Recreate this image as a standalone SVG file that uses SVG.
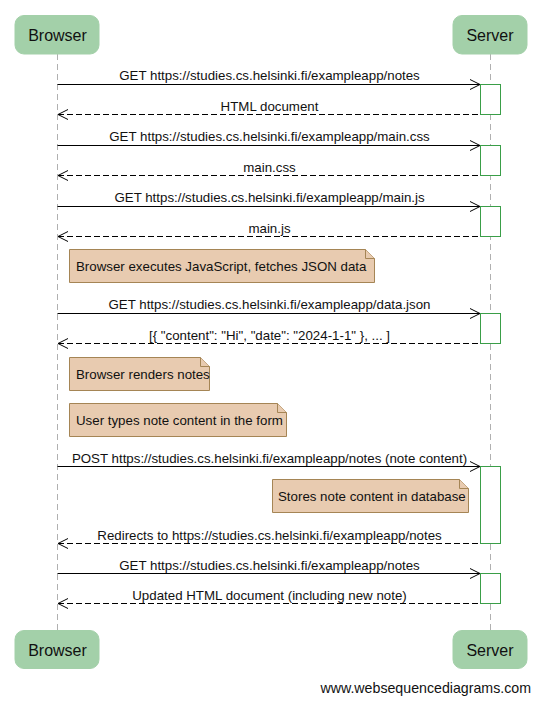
<svg xmlns="http://www.w3.org/2000/svg" width="541" height="703" viewBox="0 0 541 703">
<defs>
<style>
.actor{fill:#a3d0a9;stroke:#a3d0a9;stroke-width:1}
.atext{font-family:"Liberation Sans",Arial,sans-serif;font-size:16px;fill:#111;text-anchor:middle}
.life{stroke:#b0b0b0;stroke-width:1;stroke-dasharray:6,4;fill:none}
.act{fill:#fff;stroke:#3a9e48;stroke-width:1}
.msg{stroke:#000;stroke-width:1;fill:none}
.ret{stroke:#000;stroke-width:1;fill:none;stroke-dasharray:6,3}
.head{stroke:#000;stroke-width:1;fill:none}
.mtext{font-family:"Liberation Sans",Arial,sans-serif;font-size:13.3px;fill:#111;text-anchor:middle}
.note{fill:#e8cbb0;stroke:#a58555;stroke-width:1}
.ntext{font-family:"Liberation Sans",Arial,sans-serif;font-size:13.3px;fill:#111}
.foot{font-family:"Liberation Sans",Arial,sans-serif;font-size:14.2px;fill:#111;text-anchor:end}
</style>
</defs>
<rect width="541" height="703" fill="#fff"/>
<g id="lifelines">
<line class="life" x1="57.5" y1="54" x2="57.5" y2="630"/>
<line class="life" x1="490.5" y1="54" x2="490.5" y2="630"/>
</g>
<g id="browser-top"><rect class="actor" x="15" y="15.5" width="84" height="38.5" rx="9"/><text class="atext" x="57.5" y="41">Browser</text></g>
<g id="server-top"><rect class="actor" x="453" y="15.5" width="74" height="38.5" rx="9"/><text class="atext" x="490" y="41">Server</text></g>
<g id="browser-bottom"><rect class="actor" x="15" y="630.5" width="84" height="38" rx="9"/><text class="atext" x="57.5" y="656">Browser</text></g>
<g id="server-bottom"><rect class="actor" x="453" y="630.5" width="74" height="38" rx="9"/><text class="atext" x="490" y="656">Server</text></g>
<g id="activations">
<rect class="act" x="480.5" y="84.5" width="20" height="30"/>
<rect class="act" x="480.5" y="145.5" width="20" height="30"/>
<rect class="act" x="480.5" y="206.5" width="20" height="30"/>
<rect class="act" x="480.5" y="313.5" width="20" height="30"/>
<rect class="act" x="480.5" y="466.5" width="20" height="77"/>
<rect class="act" x="480.5" y="573.5" width="20" height="30"/>
</g>
<g id="connectors">
<line class="msg" x1="57.5" y1="84.5" x2="480" y2="84.5"/><polyline class="head" points="470,79.5 480,84.5 470,89.5"/>
<text class="mtext" x="269.5" y="80">GET https://studies.cs.helsinki.fi/exampleapp/notes</text>
<line class="ret" x1="58" y1="114.5" x2="480" y2="114.5"/><polyline class="head" points="68,109.5 58,114.5 68,119.5"/>
<text class="mtext" x="269.5" y="111">HTML document</text>

<line class="msg" x1="57.5" y1="145.5" x2="480" y2="145.5"/><polyline class="head" points="470,140.5 480,145.5 470,150.5"/>
<text class="mtext" x="269.5" y="141">GET https://studies.cs.helsinki.fi/exampleapp/main.css</text>
<line class="ret" x1="58" y1="175.5" x2="480" y2="175.5"/><polyline class="head" points="68,170.5 58,175.5 68,180.5"/>
<text class="mtext" x="269.5" y="172">main.css</text>

<line class="msg" x1="57.5" y1="206.5" x2="480" y2="206.5"/><polyline class="head" points="470,201.5 480,206.5 470,211.5"/>
<text class="mtext" x="269.5" y="202">GET https://studies.cs.helsinki.fi/exampleapp/main.js</text>
<line class="ret" x1="58" y1="236.5" x2="480" y2="236.5"/><polyline class="head" points="68,231.5 58,236.5 68,241.5"/>
<text class="mtext" x="269.5" y="233">main.js</text>

<line class="msg" x1="57.5" y1="313.5" x2="480" y2="313.5"/><polyline class="head" points="470,308.5 480,313.5 470,318.5"/>
<text class="mtext" x="269.5" y="309">GET https://studies.cs.helsinki.fi/exampleapp/data.json</text>
<line class="ret" x1="58" y1="343.5" x2="480" y2="343.5"/><polyline class="head" points="68,338.5 58,343.5 68,348.5"/>
<text class="mtext" x="269.5" y="340">[{ "content": "Hi", "date": "2024-1-1" }, ... ]</text>

<line class="msg" x1="57.5" y1="466.5" x2="480" y2="466.5"/><polyline class="head" points="470,461.5 480,466.5 470,471.5"/>
<text class="mtext" x="269.5" y="463">POST https://studies.cs.helsinki.fi/exampleapp/notes (note content)</text>
<line class="ret" x1="58" y1="543.5" x2="480" y2="543.5"/><polyline class="head" points="68,538.5 58,543.5 68,548.5"/>
<text class="mtext" x="269.5" y="540">Redirects to https://studies.cs.helsinki.fi/exampleapp/notes</text>

<line class="msg" x1="57.5" y1="573.5" x2="480" y2="573.5"/><polyline class="head" points="470,568.5 480,573.5 470,578.5"/>
<text class="mtext" x="269.5" y="570">GET https://studies.cs.helsinki.fi/exampleapp/notes</text>
<line class="ret" x1="58" y1="603.5" x2="480" y2="603.5"/><polyline class="head" points="68,598.5 58,603.5 68,608.5"/>
<text class="mtext" x="269.5" y="600">Updated HTML document (including new note)</text>
</g>
<g id="note1"><path class="note" d="M69.5,249.5 H365.5 L374.5,258.5 V282.5 H69.5 Z"/><path class="note" d="M365.5,249.5 V258.5 H374.5" fill="none"/><text class="ntext" x="76" y="271">Browser executes JavaScript, fetches JSON data</text></g>
<g id="note2"><path class="note" d="M69.5,357.5 H200.5 L209.5,366.5 V390.5 H69.5 Z"/><path class="note" d="M200.5,357.5 V366.5 H209.5" fill="none"/><text class="ntext" x="76" y="379">Browser renders notes</text></g>
<g id="note3"><path class="note" d="M69.5,403.5 H277.5 L286.5,412.5 V436.5 H69.5 Z"/><path class="note" d="M277.5,403.5 V412.5 H286.5" fill="none"/><text class="ntext" x="76" y="425">User types note content in the form</text></g>
<g id="note4"><path class="note" d="M272.5,479.5 H459.5 L468.5,488.5 V512.5 H272.5 Z"/><path class="note" d="M459.5,479.5 V488.5 H468.5" fill="none"/><text class="ntext" x="278" y="501">Stores note content in database</text></g>
<text class="foot" x="531" y="693">www.websequencediagrams.com</text>
</svg>
